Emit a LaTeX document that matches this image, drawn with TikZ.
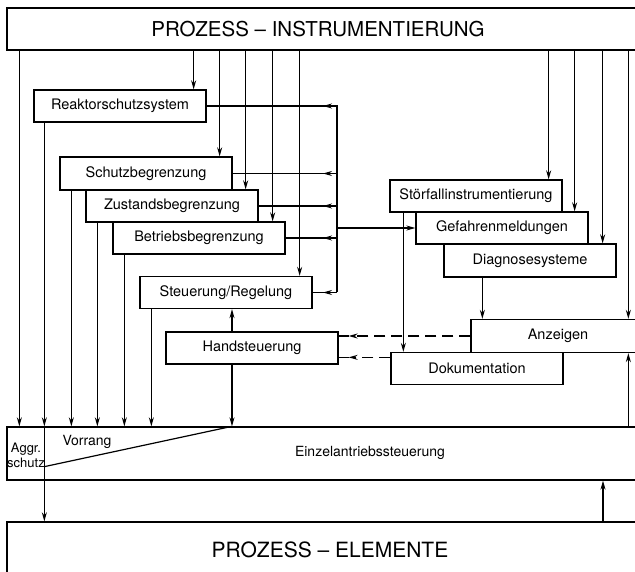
\documentclass[tikz,border=0pt]{standalone}
\usepackage{fontspec}
\setmainfont{TeX Gyre Heros}
\usetikzlibrary{arrows.meta}
\tikzset{
  blk/.style={draw, fill=white, line width=1.3pt, minimum width=172pt, minimum height=32pt, inner sep=0pt, font=\fontsize{14.5}{16}\selectfont},
  frm/.style={draw, fill=white, line width=1.3pt, minimum width=638pt, inner sep=0pt},
  ln/.style={line width=1.2pt},
  sig/.style={line width=1.2pt, -{Stealth[length=9pt, width=5pt]}},
  dsh/.style={line width=1.2pt, dash pattern=on 11pt off 6pt},
}

\begin{document}
\begin{tikzpicture}[x=1pt, y=-1pt]
  \useasboundingbox (0,0) rectangle (635,572);
  \node[frm, minimum height=42pt] (pi) at (326,29) {};
  \node[font=\fontsize{20.5}{22}\selectfont] (pit) at (318,29) {PROZESS – INSTRUMENTIERUNG};
  \node[frm, minimum height=53pt] (ez) at (326,453.5) {};
  \node[frm, minimum height=78pt] (pe) at (326,561) {};
  \node[font=\fontsize{21}{23}\selectfont] (pet) at (330,550) {PROZESS – ELEMENTE};
  \node[blk] (rss) at (120,106) {Reaktorschutzsystem};
  \node[blk, minimum height=33pt] (sb) at (146,173.5) {Schutzbegrenzung};
  \node[blk] (zb) at (172,206) {Zustandsbegrenzung};
  \node[blk] (bb) at (199,238) {Betriebsbegrenzung};
  \node[blk] (sr) at (226,292.5) {Steuerung/Regelung};
  \node[blk] (hs) at (252,348) {Handsteuerung};
  \node[blk] (sfi) at (476,196) {Störfallinstrumentierung};
  \node[blk] (gm) at (502,228) {Gefahrenmeldungen};
  \node[blk, minimum height=33pt] (ds) at (530,260.5) {Diagnosesysteme};
  \node[blk, minimum width=174pt, minimum height=33pt] (anz) at (558,336) {Anzeigen};
  \node[blk] (dok) at (477,368.5) {Dokumentation};
  \coordinate (cx) at (337,0);

  \draw[sig] ([xshift=13pt]ez.north west |- pi.south) -- ([xshift=13pt]ez.north west);
  \draw[sig] ([xshift=-13pt]rss.north east |- pi.south) -- ([xshift=-13pt]rss.north east);
  \draw[sig] ([xshift=-13pt]sb.north east |- pi.south) -- ([xshift=-13pt]sb.north east);
  \draw[sig] ([xshift=-13pt]zb.north east |- pi.south) -- ([xshift=-13pt]zb.north east);
  \draw[sig] ([xshift=-13pt]bb.north east |- pi.south) -- ([xshift=-13pt]bb.north east);
  \draw[sig] ([xshift=-13pt]sr.north east |- pi.south) -- ([xshift=-13pt]sr.north east);
  \draw[sig] ([xshift=-14pt]sfi.north east |- pi.south) -- ([xshift=-14pt]sfi.north east);
  \draw[sig] ([xshift=-14pt]gm.north east |- pi.south) -- ([xshift=-14pt]gm.north east);
  \draw[sig] ([xshift=-14pt]ds.north east |- pi.south) -- ([xshift=-14pt]ds.north east);
  \draw[sig] ([xshift=158pt]anz.north west |- pi.south) -- ([xshift=158pt]anz.north west);

  \draw[ln] (rss.east) -- (rss.east -| cx) -- (sr.east -| cx);
  \draw[ln] (sb.east) -- (sb.east -| cx);
  \draw[ln] (zb.east) -- (zb.east -| cx);
  \draw[ln] (bb.east) -- (bb.east -| cx);
  \draw[ln] (sr.east) -- (sr.east -| cx);
  \draw[sig] (rss.east -| cx) -- ([xshift=-14pt]rss.east -| cx);
  \draw[sig] (sb.east -| cx) -- ([xshift=-14pt]sb.east -| cx);
  \draw[sig] (zb.east -| cx) -- ([xshift=-14pt]zb.east -| cx);
  \draw[sig] (bb.east -| cx) -- ([xshift=-14pt]bb.east -| cx);
  \draw[sig] (sr.east -| cx) -- ([xshift=-14pt]sr.east -| cx);
  \draw[sig] (gm.west -| cx) -- (gm.west);

  \draw[sig] ([xshift=11pt]rss.south west) -- ([xshift=11pt]rss.south west |- ez.north);
  \draw[ln] ([xshift=11pt]rss.south west |- ez.north) -- ([xshift=11pt]rss.south west |- ez.south);
  \draw[sig] ([xshift=11pt]rss.south west |- ez.south) -- ([xshift=11pt]rss.south west |- pe.north);
  \draw[sig] ([xshift=12pt]sb.south west) -- ([xshift=12pt]sb.south west |- ez.north);
  \draw[sig] ([xshift=12pt]zb.south west) -- ([xshift=12pt]zb.south west |- ez.north);
  \draw[sig] ([xshift=12pt]bb.south west) -- ([xshift=12pt]bb.south west |- ez.north);
  \draw[sig] ([xshift=12pt]sr.south west) -- ([xshift=12pt]sr.south west |- ez.north);
  \draw[sig] ([xshift=-20pt]hs.south) -- ([xshift=-20pt]hs.south |- ez.north);
  \draw[sig] ([xshift=-20pt]hs.north) -- ([xshift=-20pt]hs.north |- sr.south);
  \draw[ln] ([xshift=11pt, yshift=14pt]rss.south west |- ez.south) -- ([xshift=-20pt]hs.south |- ez.north);

  \draw[sig] ([xshift=14pt]sfi.south west) -- ([xshift=14pt]sfi.south west |- dok.north);
  \draw[sig] ([xshift=39pt]ds.south west) -- ([xshift=39pt]ds.south west |- anz.north);
  \draw[sig] ([xshift=158pt]anz.south west |- ez.north) -- ([xshift=158pt]anz.south west);
  \draw[sig] ([xshift=277pt]ez.south |- pe.north) -- ([xshift=277pt]ez.south);

  \draw[dsh, sig] (anz.west) -- ([xshift=10pt]anz.west -| hs.east);
  \draw[ln] ([xshift=10pt]anz.west -| hs.east) -- (anz.west -| hs.east);
  \draw[dsh, sig] ([yshift=-5.5pt]dok.north west) -- ([xshift=10pt, yshift=-5.5pt]dok.north west -| hs.east);
  \draw[ln] ([xshift=10pt, yshift=-5.5pt]dok.north west -| hs.east) -- ([yshift=-5.5pt]dok.north west -| hs.east);

  \node[font=\fontsize{13}{15}\selectfont, align=center, inner sep=0pt] (agg) at (26,455.5) {Aggr.\\schutz};
  \node[font=\fontsize{14}{16}\selectfont] (vor) at (87,442) {Vorrang};
  \node[font=\fontsize{14}{16}\selectfont] (ezt) at (370,453) {Einzelantriebssteuerung};
\end{tikzpicture}
\end{document}
